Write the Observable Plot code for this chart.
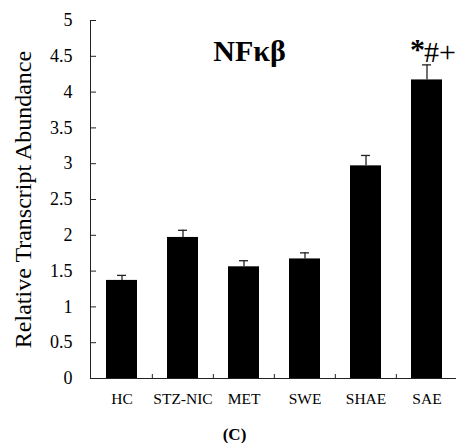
<!DOCTYPE html>
<html>
<head>
<meta charset="utf-8">
<script src="https://cdn.jsdelivr.net/npm/d3@7"></script>
<script src="https://cdn.jsdelivr.net/npm/@observablehq/plot@0.6"></script>
<style>
  html, body { margin: 0; padding: 0; background: #fff; }
</style>
</head>
<body>
<div id="chart"></div>
<script>
const categories = ["HC", "STZ-NIC", "MET", "SWE", "SHAE", "SAE"];
const values = [1.37, 1.97, 1.56, 1.67, 2.97, 4.17];
const errors = [0.07, 0.10, 0.085, 0.085, 0.145, 0.21];
const sigStar = ["", "", "", "", "", "*"];
const sigRest = ["", "", "", "", "", "#+"];
const yTicks = [0, 0.5, 1, 1.5, 2, 2.5, 3, 3.5, 4, 4.5, 5];
const titleText = "NFκβ";
const yLabel = "Relative Transcript Abundance";
const captionText = "(C)";

const data = categories.map((c, i) => ({cat: c, value: values[i], err: errors[i], star: sigStar[i], rest: sigRest[i]}));

const chart = Plot.plot({
  width: 456,
  height: 443,
  marginLeft: 90,
  marginRight: 0,
  marginTop: 20,
  marginBottom: 65,
  style: {fontFamily: "'Liberation Serif', 'Times New Roman', serif", color: "#000", background: "#fff"},
  x: {domain: categories, range: [90, 458], paddingInner: 0.5, paddingOuter: 0.25, axis: null},
  y: {domain: [0, 5], axis: null},
  marks: [
    Plot.barY(data, {x: "cat", y: "value", fill: "#000"}),
    Plot.ruleX(data, {x: "cat", y1: "value", y2: d => d.value + d.err, stroke: "#222", strokeWidth: 1.3}),
    Plot.tickY(data, {x: "cat", y: d => d.value + d.err, insetLeft: 11, insetRight: 11, stroke: "#222", strokeWidth: 1.3}),
    Plot.axisY({ticks: yTicks, tickSize: 0, tickPadding: 18, fontSize: 18, tickFormat: d => String(d), label: null}),
    Plot.ruleY(yTicks, {y: d => d, insetRight: 360, stroke: "#222"}),
    Plot.axisX({tickSize: 0, tickPadding: 14, fontSize: 15.5, label: null}),
    Plot.ruleX(categories.slice(1), {x: d => d, dx: -30.67, insetTop: 354, stroke: "#222"}),
    Plot.frame({anchor: "left", stroke: "#222"}),
    Plot.frame({anchor: "bottom", stroke: "#222"}),
    Plot.text([titleText], {frameAnchor: "top", dx: -24, dy: 31, fontSize: 30, fontWeight: "bold", lineAnchor: "middle"}),
    Plot.text(data, {x: "cat", y: d => d.value + d.err, text: "star", textAnchor: "end", dx: -2, dy: -6, lineAnchor: "bottom", fontSize: 30, fontWeight: "bold"}),
    Plot.text(data, {x: "cat", y: d => d.value + d.err, text: "rest", textAnchor: "start", dx: -3, dy: -3, lineAnchor: "bottom", fontSize: 30}),
    Plot.text([yLabel], {frameAnchor: "left", rotate: -90, dx: -67, fontSize: 24, textAnchor: "middle", lineAnchor: "middle"}),
    Plot.text([captionText], {frameAnchor: "bottom-left", textAnchor: "middle", dx: 144, dy: 56, fontSize: 17, fontWeight: "bold", lineAnchor: "middle"})
  ]
});
document.getElementById("chart").appendChild(chart);
</script>
</body>
</html>
